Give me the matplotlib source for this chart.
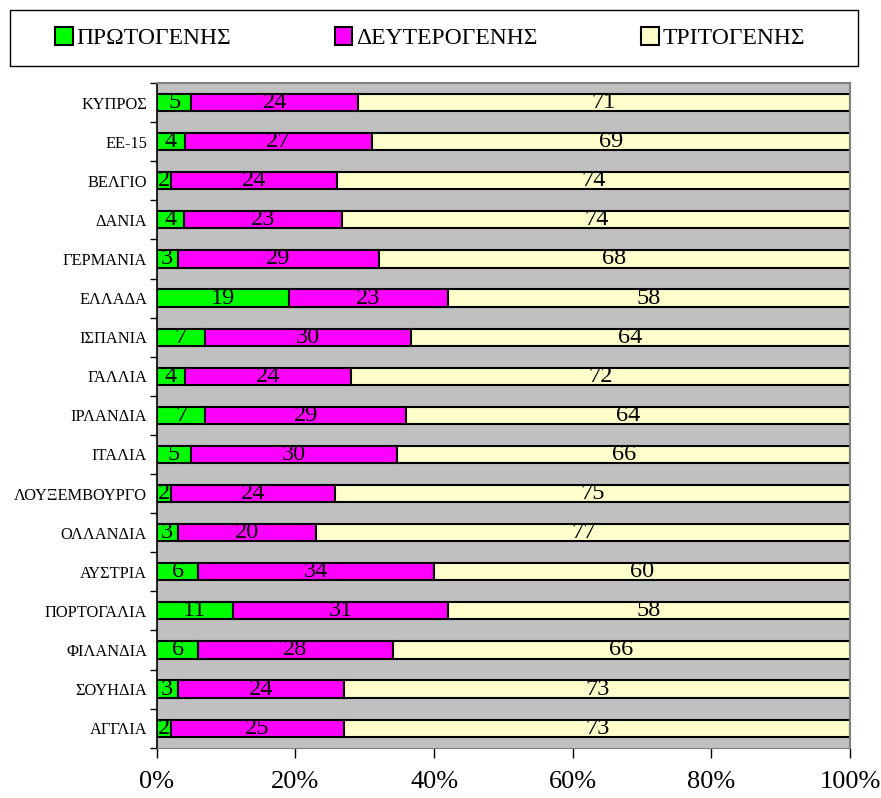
import matplotlib
matplotlib.use('Agg')
import matplotlib.pyplot as plt
from matplotlib.patches import Rectangle
import numpy as np

plt.rcParams['font.family'] = ['Liberation Serif', 'DejaVu Serif']

countries = ['ΚΥΠΡΟΣ', 'ΕΕ-15', 'ΒΕΛΓΙΟ', 'ΔΑΝΙΑ', 'ΓΕΡΜΑΝΙΑ', 'ΕΛΛΑΔΑ', 'ΙΣΠΑΝΙΑ',
             'ΓΑΛΛΙΑ', 'ΙΡΛΑΝΔΙΑ', 'ΙΤΑΛΙΑ', 'ΛΟΥΞΕΜΒΟΥΡΓΟ', 'ΟΛΛΑΝΔΙΑ', 'ΑΥΣΤΡΙΑ',
             'ΠΟΡΤΟΓΑΛΙΑ', 'ΦΙΛΑΝΔΙΑ', 'ΣΟΥΗΔΙΑ', 'ΑΓΓΛΙΑ']
primary = [5, 4, 2, 4, 3, 19, 7, 4, 7, 5, 2, 3, 6, 11, 6, 3, 2]
secondary = [24, 27, 24, 23, 29, 23, 30, 24, 29, 30, 24, 20, 34, 31, 28, 24, 25]
tertiary = [71, 69, 74, 74, 68, 58, 64, 72, 64, 66, 75, 77, 60, 58, 66, 73, 73]
series_names = ['ΠΡΩΤΟΓΕΝΗΣ', 'ΔΕΥΤΕΡΟΓΕΝΗΣ', 'ΤΡΙΤΟΓΕΝΗΣ']
colors = ['#00FF00', '#FF00FF', '#FFFFCC']

data = np.array([primary, secondary, tertiary], dtype=float)
shares = data / data.sum(axis=0) * 100

fig = plt.figure(figsize=(8.81, 7.98), dpi=100)
ax = fig.add_axes([0.178, 0.063, 0.787, 0.833])
ax.set_facecolor('#C0C0C0')

y = np.arange(len(countries))[::-1]
left = np.zeros(len(countries))
for i in range(3):
    ax.barh(y, shares[i], left=left, height=0.44, color=colors[i],
            edgecolor='black', linewidth=1.5, label=series_names[i])
    for yy, l, w, v in zip(y, left, shares[i], data[i]):
        ax.text(l + w / 2, yy, '%d' % v, ha='center', va='center', fontsize=17.5)
    left += shares[i]

ax.set_xlim(0, 100)
ax.set_ylim(-0.5, len(countries) - 0.5)
ax.set_xticks(np.arange(0, 101, 20))
ax.set_xticklabels(['%d%%' % v for v in range(0, 101, 20)], fontsize=19)
ax.set_yticks(y)
ax.set_yticklabels(countries, fontsize=11.8)
ax.tick_params(axis='y', length=0, pad=7)
ax.set_yticks(np.arange(-0.5, len(countries), 1), minor=True)
ax.tick_params(axis='y', which='minor', length=5, width=1)
ax.tick_params(axis='x', length=7, width=1, pad=10)

for s in ['top', 'right']:
    ax.spines[s].set_color('#808080')
    ax.spines[s].set_linewidth(1.5)
ax.spines['left'].set_linewidth(1.2)
ax.spines['bottom'].set_color('#808080')

# legend box
fig.patches.append(Rectangle((10 / 881, 1 - 66 / 798), 848 / 881, 56 / 798,
                             transform=fig.transFigure, facecolor='white',
                             edgecolor='black', linewidth=1))
fig.legend(loc='center left', bbox_to_anchor=(55 / 881, 1 - 38 / 798), ncol=3,
           fontsize=17, frameon=False, borderpad=0, borderaxespad=0,
           handlelength=0.75, handleheight=0.8, handletextpad=0.15,
           columnspacing=4.4)

fig.savefig('out.png', dpi=100)
